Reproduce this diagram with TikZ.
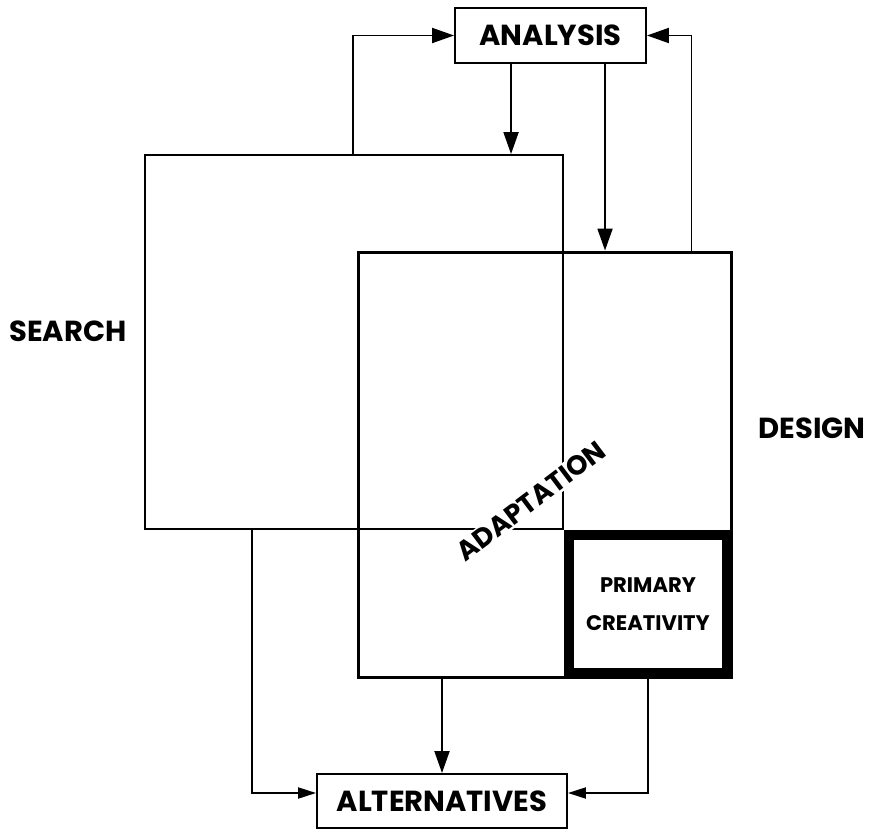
\documentclass[tikz,border=0pt]{standalone}
\usepackage{fontspec}
\setmainfont{Poppins}
\usetikzlibrary{arrows.meta}

\begin{document}
\begin{tikzpicture}[x=0.02cm, y=-0.02cm,
		box/.style={draw=black, line width=1.1pt, inner sep=0pt, font=\bfseries\fontsize{16.5}{18}\selectfont},
		area/.style={draw=black, inner sep=0pt},
		label/.style={font=\bfseries\fontsize{16.5}{18}\selectfont},
		arr/.style={line width=1.1pt, -{Triangle[length=0.44cm, width=0.3cm]}},
		sarr/.style={line width=1.1pt, -{Triangle[length=0.36cm, width=0.22cm]}}]
		\useasboundingbox (0, 0) rectangle (876, 831);
		\node[box, minimum width=3.82cm, minimum height=1.1cm] (analysis) at (550.5, 35.5) {ANALYSIS};
		\node[box, minimum width=5cm, minimum height=1.08cm] (alternatives) at (442, 801) {ALTERNATIVES};
		\node[area, line width=1.1pt, minimum width=8.36cm, minimum height=7.48cm] (search) at (354, 342) {};
		\node[area, line width=1.7pt, minimum width=7.48cm, minimum height=8.52cm] (design) at (545, 465) {};
		\node[area, line width=0.2cm, minimum width=3.16cm, minimum height=2.76cm, font=\bfseries\fontsize{12}{22}\selectfont, align=center] (primary) at (648, 604) {PRIMARY\\CREATIVITY};
		\node[label] (searchlabel) at (68, 331) {SEARCH};
		\node[label] (designlabel) at (812, 428) {DESIGN};
		\node[label, fill=white, inner sep=1pt, rotate=37, font=\bfseries\fontsize{15.5}{18}\selectfont] (adaptation) at (531, 501) {ADAPTATION};
		% feedback to analysis
		\coordinate (s1) at ([xshift=4.18cm]search.north west);
		\coordinate (d1) at ([xshift=-0.84cm]design.north east);
		\draw[arr] (s1) |- (analysis.west);
		\draw[arr] (d1) |- (analysis.east);
		% analysis down
		\coordinate (a1) at ([xshift=1.14cm]analysis.south west);
		\coordinate (a2) at ([xshift=3.02cm]analysis.south west);
		\draw[arr] (a1) -- (a1 |- search.north);
		\draw[arr] (a2) -- (a2 |- design.north);
		% down to alternatives
		\coordinate (s2) at ([xshift=2.16cm]search.south west);
		\draw[arr] (alternatives.north |- design.south) -- (alternatives.north);
		\draw[sarr] (s2) |- ([yshift=0.16cm]alternatives.west);
		\draw[sarr] (primary.south) |- ([yshift=0.16cm]alternatives.east);
	\end{tikzpicture}
\end{document}
